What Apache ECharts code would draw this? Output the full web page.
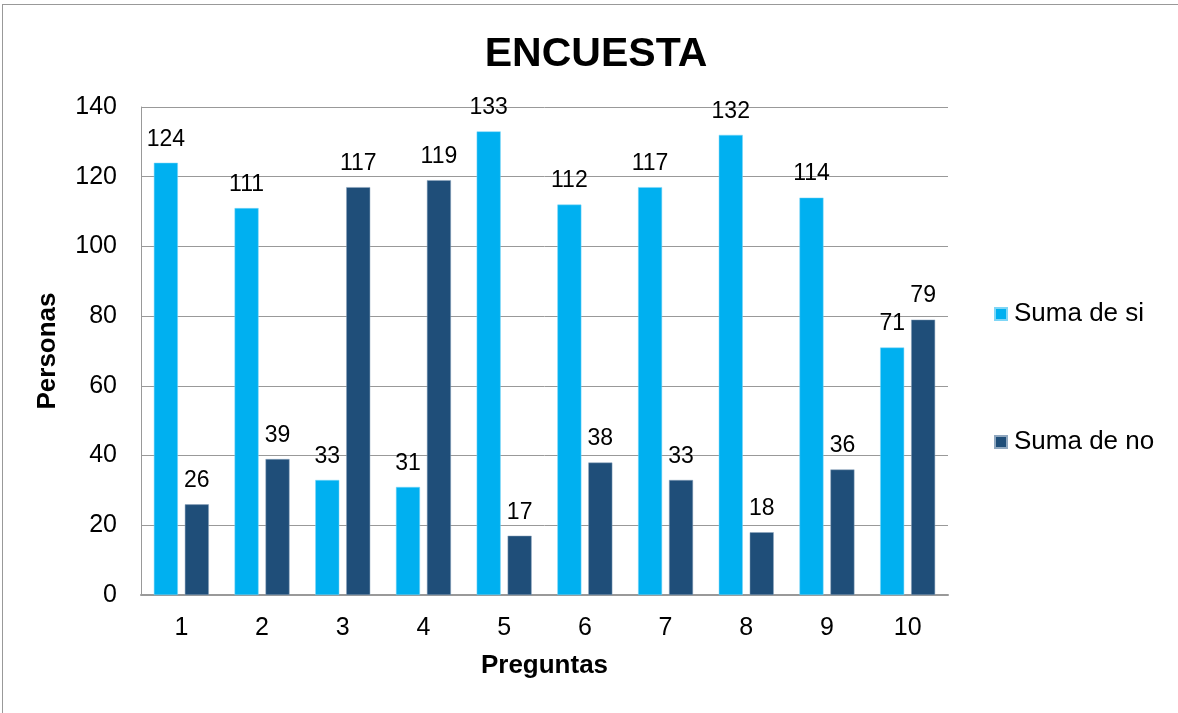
<!DOCTYPE html>
<html><head><meta charset="utf-8">
<script src="https://cdn.jsdelivr.net/npm/echarts@6/dist/echarts.min.js"></script>
<style>html,body{margin:0;padding:0;background:#fff}#c{width:1178px;height:713px;position:relative}
#frame{position:absolute;left:2px;top:4px;width:1200px;height:720px;border:1px solid #999;box-sizing:border-box;pointer-events:none}</style>
</head><body><div id="c"></div><div id="frame"></div>
<script>
const categories = ['1','2','3','4','5','6','7','8','9','10'];
const sumaSi = [124,111,33,31,133,112,117,132,114,71];
const sumaNo = [26,39,117,119,17,38,33,18,36,79];
const chart = echarts.init(document.getElementById('c'));
const font = 'Arial, "Liberation Sans", sans-serif';
const lbl = {show:true, position:'top', distance:12, fontSize:23, color:'#000', fontFamily:font};
chart.setOption({
  animation:false,
  title:{text:'ENCUESTA', top:29, left:591, textAlign:'center', textStyle:{fontSize:41, fontWeight:'bold', color:'#000', fontFamily:font}},
  grid:{left:141, top:107, width:807, height:488},
  legend:{orient:'vertical', left:989, top:296, itemGap:102, itemWidth:12, itemHeight:12, icon:'rect',
    textStyle:{fontSize:26, color:'#000', fontFamily:font, padding:[0,0,0,2]}, data:['Suma de si','Suma de no']},
  xAxis:{type:'category', data:categories, name:'Preguntas', nameLocation:'middle', nameGap:58,
    nameTextStyle:{fontSize:26, fontWeight:'bold', color:'#000', fontFamily:font},
    axisLine:{lineStyle:{color:'#999', width:2}}, axisTick:{show:false},
    axisLabel:{fontSize:25, color:'#000', fontFamily:font, margin:21}},
  yAxis:{type:'value', min:0, max:140, interval:20, name:'Personas', nameLocation:'middle', nameGap:80, nameRotate:90,
    nameTextStyle:{fontSize:26, fontWeight:'bold', color:'#000', fontFamily:font},
    axisLine:{show:true, lineStyle:{color:'#999', width:1}}, axisTick:{show:false},
    splitLine:{lineStyle:{color:'#999', width:1}},
    axisLabel:{fontSize:25, color:'#000', fontFamily:font, margin:24}},
  series:[
    {name:'Suma de si', type:'bar', data:sumaSi, barWidth:24, barGap:'29%', itemStyle:{color:'#00B0F0', borderColor:'#7fd6f6', borderWidth:0.5}, label:lbl},
    {name:'Suma de no', type:'bar', data:sumaNo, barWidth:24, itemStyle:{color:'#1F4E79', borderColor:'#8fa7bf', borderWidth:0.5}, label:lbl}
  ]
});
</script></body></html>
